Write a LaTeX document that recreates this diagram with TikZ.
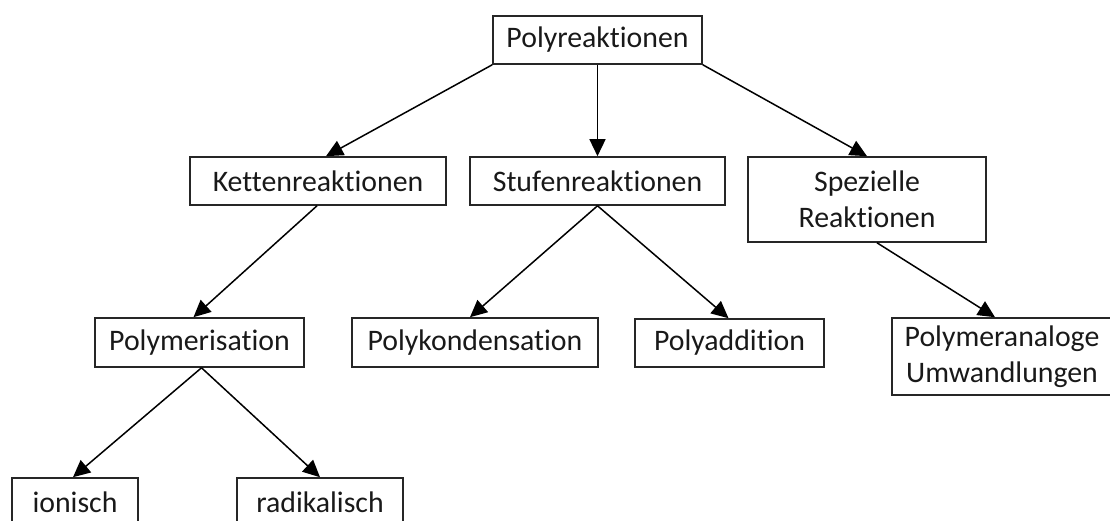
\documentclass[tikz,border=0pt]{standalone}
\usepackage{fontspec}
\setmainfont{Carlito}[Ligatures=NoCommon]
\usetikzlibrary{arrows.meta}
\begin{document}
\begin{tikzpicture}[x=1pt,y=-1pt,
  box/.style={draw=black!85, line width=1.6pt, inner sep=0pt, align=center,
    font=\fontsize{29.8}{36}\selectfont, text=black!90},
  conn/.style={line width=1.5pt, -{Triangle[length=17pt,width=16pt]}}]
\useasboundingbox (0,0) rectangle (1110,521);
\node[box, minimum width=209pt, minimum height=48pt] (poly) at (597.5,40) {Polyreaktionen};
\node[box, minimum width=256pt, minimum height=48pt] (ketten) at (318,181) {Kettenreaktionen};
\node[box, minimum width=255pt, minimum height=48pt] (stufen) at (597.5,181) {Stufenreaktionen};
\node[box, minimum width=238pt, minimum height=85pt] (spez) at (867,199.5) {Spezielle\\Reaktionen};
\node[box, minimum width=209pt, minimum height=49pt] (polym) at (199.5,342.5) {Polymerisation};
\node[box, minimum width=246pt, minimum height=49pt] (polyk) at (475,342.5) {Polykondensation};
\node[box, minimum width=189pt, minimum height=48pt] (polya) at (729.5,343) {Polyaddition};
\node[box, minimum width=220pt, minimum height=77pt] (analog) at (1002,356.5) {Polymeranaloge\\Umwandlungen};
\node[box, minimum width=126pt, minimum height=48pt] (ionisch) at (75,502) {ionisch};
\node[box, minimum width=166pt, minimum height=48pt] (radik) at (320,502) {radikalisch};
\draw[conn] (poly.south west) -- ([xshift=8pt]ketten.north);
\draw[conn] (poly.south) -- (stufen.north);
\draw[conn] (poly.south east) -- (spez.north);
\draw[conn] ([xshift=-1pt]ketten.south) -- ([xshift=-6pt]polym.north);
\draw[conn] (stufen.south) -- ([xshift=-5pt]polyk.north);
\draw[conn] (stufen.south) -- ([xshift=-1pt]polya.north);
\draw[conn] ([xshift=10pt]spez.south) -- ([xshift=-7pt]analog.north);
\draw[conn] ([xshift=2pt]polym.south) -- ([xshift=-2pt]ionisch.north);
\draw[conn] ([xshift=2pt]polym.south) -- (radik.north);
\end{tikzpicture}
\end{document}
